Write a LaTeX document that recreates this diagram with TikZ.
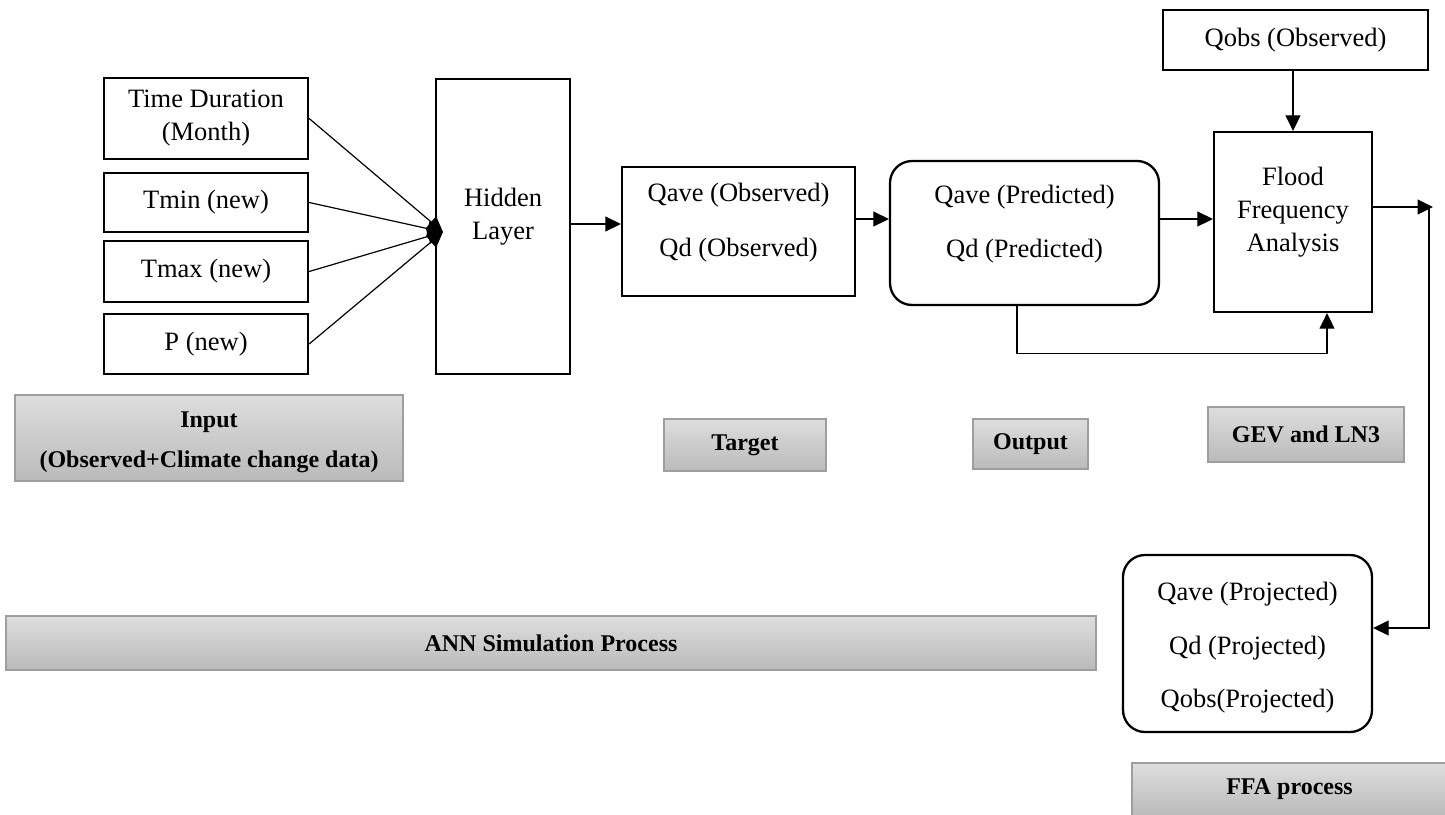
\documentclass[tikz,border=0pt]{standalone}
\usepackage{fontspec}
\setmainfont{Liberation Serif}
\usetikzlibrary{arrows.meta}
\tikzstyle{caja}=[draw, line width=2.3pt, inner sep=0pt, align=center, font=\fontsize{26.5}{33}\selectfont]
\tikzstyle{cajared}=[caja, rounded corners=22pt]
\tikzstyle{texto}=[inner sep=0pt, align=center, font=\fontsize{26.5}{33}\selectfont]
\tikzstyle{gris}=[draw=black!38, line width=1.3pt, top color=black!13, bottom color=black!27, inner sep=0pt, align=center, font=\fontsize{24}{40}\selectfont\bfseries]
\tikzstyle{flecha}=[line width=1.2pt, -{Triangle[length=15.5pt,width=15pt]}]

\begin{document}
\begin{tikzpicture}[x=1pt, y=-1pt]
\useasboundingbox (0,0) rectangle (1445,814);

% entradas
\node[caja, minimum width=204pt, minimum height=81pt] (time) at (206,118.5) {Time Duration\\(Month)};
\node[caja, minimum width=204pt, minimum height=59pt] (tmin) at (206,202.5) {Tmin (new)};
\node[caja, minimum width=204pt, minimum height=61pt] (tmax) at (206,271.5) {Tmax (new)};
\node[caja, minimum width=204pt, minimum height=60pt] (pnew) at (206,344) {P (new)};

% capa oculta, objetivo y salida
\node[caja, minimum width=134pt, minimum height=295pt] (hidden) at (503,226.5) {};
\node[texto] (hiddentxt) at ([yshift=9.5pt]hidden.center) {Hidden\\Layer};
\node[caja, minimum width=233pt, minimum height=129pt] (target) at (738.5,231.5) {};
\node[texto, font=\fontsize{26.5}{55}\selectfont] (targettxt) at ([yshift=9pt]target.center) {Qave (Observed)\\Qd (Observed)};
\node[cajared, minimum width=269pt, minimum height=144pt] (output) at (1024.5,233) {};
\node[texto, font=\fontsize{26.5}{54}\selectfont] (outputtxt) at ([yshift=9pt]output.center) {Qave (Predicted)\\Qd (Predicted)};

% analisis de frecuencia
\node[caja, minimum width=265pt, minimum height=60pt] (qobs) at (1295.5,40) {Qobs (Observed)};
\node[caja, minimum width=158pt, minimum height=180pt] (ffa) at (1293,222) {};
\node[texto] (ffatxt) at ([yshift=10pt]ffa.center) {Flood\\Frequency\\Analysis};
\node[cajared, minimum width=249pt, minimum height=177pt] (proj) at (1247.5,643.5) {};
\node[texto, font=\fontsize{26.5}{53.5}\selectfont] (projtxt) at ([yshift=-4.5pt]proj.center) {Qave (Projected)\\Qd (Projected)\\Qobs(Projected)};

% etiquetas grises
\node[gris, minimum width=388pt, minimum height=86pt] (inputlbl) at (209,438) {};
\node[texto, font=\fontsize{24}{40}\selectfont\bfseries] (inputtxt) at ([yshift=-4pt]inputlbl.center) {Input\\(Observed+Climate change data)};
\node[gris, minimum width=162pt, minimum height=52pt] (targetlbl) at (745,445) {Target};
\node[gris, minimum width=115pt, minimum height=50pt] (outputlbl) at (1030.5,444) {Output};
\node[gris, minimum width=196pt, minimum height=55pt] (gevlbl) at (1306,434.5) {GEV and LN3};
\node[gris, minimum width=1090pt, minimum height=54pt] (annlbl) at (551,643) {ANN Simulation Process};
\node[gris, minimum width=315pt, minimum height=53pt] (ffalbl) at (1289.5,789.5) {FFA process};

% conexiones
\coordinate (hub) at (443,232);
\coordinate (rgt) at (1433,207);
\coordinate (dwn) at (1429,628);
\draw[flecha] (time.east) -- (hub);
\draw[flecha] (tmin.east) -- (hub);
\draw[flecha] (tmax.east) -- (hub);
\draw[flecha] (pnew.east) -- (hub);
\draw[flecha] ([yshift=2.5pt]hidden.east) -- ([yshift=2.5pt]hidden.east -| target.west);
\draw[flecha] ([yshift=12.5pt]target.east) -- ([yshift=12.5pt]target.east -| output.west);
\draw[flecha] ([yshift=14pt]output.east) -- ([yshift=14pt]output.east -| ffa.west);
\draw[flecha] (qobs.south -| ffa.north) -- (ffa.north);
\draw[flecha] ([xshift=-7.5pt]output.south) -- ++(0,47) -| ([xshift=34pt]ffa.south);
\draw[flecha] ([yshift=15pt]ffa.east) -- (rgt);
\draw[flecha] ([xshift=-4pt]rgt) -- (dwn) -- (dwn -| proj.east);
\end{tikzpicture}
\end{document}
